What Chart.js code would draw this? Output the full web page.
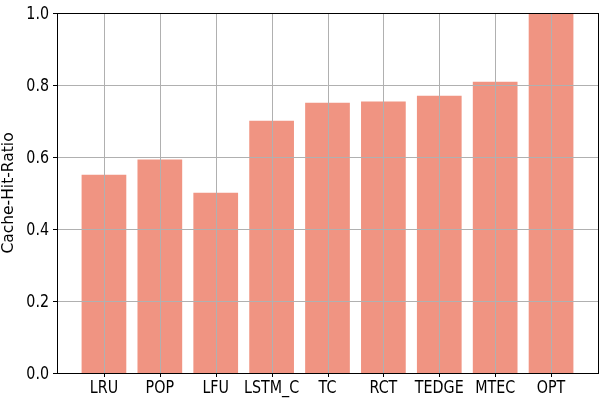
<!DOCTYPE html>
<html>
<head>
<meta charset="utf-8">
<script src="https://cdn.jsdelivr.net/npm/chart.js@4"></script>
<style>
  body { margin: 0; background: #fff; }
</style>
</head>
<body>
<canvas id="myChart" width="604" height="403"></canvas>
<script>
// data
const methods = ['LRU', 'POP', 'LFU', 'LSTM_C', 'TC', 'RCT', 'TEDGE', 'MTEC', 'OPT']
const hitRatio = [0.551, 0.593, 0.501, 0.701, 0.751, 0.754, 0.770, 0.809, 1.0]
const yTicks = [0, 0.2, 0.4, 0.6, 0.8, 1.0]

const barColor = '#f09482'
const gridColor = '#b0b0b0'
const tickFont = '17px "DejaVu Sans"'
const squeeze = 0.84   // reference text is narrower than it is tall

// matplotlib draws the grid over the bars and a box round the axes
const gridOnTop = {
  id: 'gridOnTop',
  afterDatasetsDraw(chart) {
    const ctx = chart.ctx
    const a = chart.chartArea
    const xs = chart.scales.x, ys = chart.scales.y
    ctx.save()
    ctx.strokeStyle = gridColor
    ctx.lineWidth = 1
    ctx.beginPath()
    methods.forEach((m, i) => {
      const px = Math.round(xs.getPixelForValue(i)) + 0.5
      ctx.moveTo(px, a.top); ctx.lineTo(px, a.bottom)
    })
    yTicks.forEach(v => {
      const py = Math.round(ys.getPixelForValue(v)) + 0.5
      ctx.moveTo(a.left, py); ctx.lineTo(a.right, py)
    })
    ctx.stroke()
    ctx.strokeStyle = '#000'
    ctx.strokeRect(Math.round(a.left) + 0.5, Math.round(a.top) + 0.5,
                   Math.round(a.right - a.left), Math.round(a.bottom - a.top))
    ctx.restore()
  }
}

// tick marks and tick labels, like matplotlib
const tickMarks = {
  id: 'tickMarks',
  afterDraw(chart) {
    const ctx = chart.ctx
    const a = chart.chartArea
    const xs = chart.scales.x, ys = chart.scales.y
    ctx.save()
    ctx.strokeStyle = '#000'
    ctx.lineWidth = 1
    ctx.beginPath()
    methods.forEach((m, i) => {
      const px = Math.round(xs.getPixelForValue(i)) + 0.5
      ctx.moveTo(px, Math.round(a.bottom)); ctx.lineTo(px, Math.round(a.bottom) + 4)
    })
    yTicks.forEach(v => {
      const py = Math.round(ys.getPixelForValue(v)) + 0.5
      ctx.moveTo(Math.round(a.left) - 4, py); ctx.lineTo(Math.round(a.left), py)
    })
    ctx.stroke()

    ctx.fillStyle = '#000'
    ctx.font = tickFont
    ctx.textBaseline = 'alphabetic'
    ctx.textAlign = 'center'
    methods.forEach((m, i) => {
      ctx.save()
      ctx.translate(xs.getPixelForValue(i), a.bottom + 20.3)
      ctx.scale(squeeze, 1)
      ctx.fillText(m, 0, 0)
      ctx.restore()
    })
    ctx.textAlign = 'right'
    yTicks.forEach(v => {
      ctx.save()
      ctx.translate(a.left - 8, ys.getPixelForValue(v) + 6.2)
      ctx.scale(squeeze, 1)
      ctx.fillText(v.toFixed(1), 0, 0)
      ctx.restore()
    })
    ctx.restore()
  }
}

const cfg = {
  type: 'bar',
  data: {
    datasets: [{
      data: hitRatio.map((v, i) => ({ x: i, y: v })),
      backgroundColor: barColor,
      borderWidth: 0,
      barPercentage: 0.8,
      categoryPercentage: 1.0
    }]
  },
  options: {
    responsive: false,
    animation: false,
    layout: { padding: { top: 13, right: 6, left: 0, bottom: 0 } },
    plugins: { legend: { display: false }, tooltip: { enabled: false } },
    scales: {
      x: {
        type: 'linear',
        offset: false,
        min: -0.84,
        max: methods.length - 1 + 0.84,
        afterBuildTicks: s => { s.ticks = methods.map((m, i) => ({ value: i })) },
        afterFit: s => { s.height = 30 },
        grid: { display: false },
        border: { display: false },
        ticks: { display: false }
      },
      y: {
        min: 0,
        max: 1,
        afterBuildTicks: s => { s.ticks = yTicks.map(v => ({ value: v })) },
        afterFit: s => { s.width = 57 },
        grid: { display: false },
        border: { display: false },
        title: { display: true, text: 'Cache-Hit-Ratio', color: '#000', font: { family: 'DejaVu Sans', size: 15.5 }, padding: 0 },
        ticks: { display: false }
      }
    }
  },
  plugins: [gridOnTop, tickMarks]
}

const ctx = document.getElementById('myChart')
const myChart = new Chart(ctx, cfg)
</script>
</body>
</html>
